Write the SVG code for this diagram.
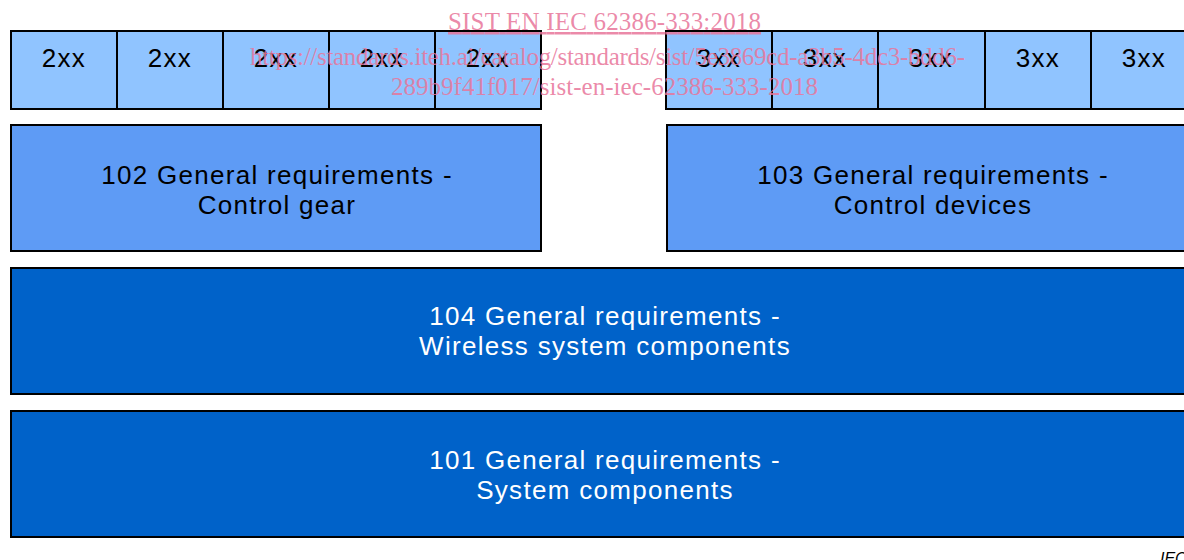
<svg xmlns="http://www.w3.org/2000/svg" width="1184" height="560" viewBox="0 0 1184 560">
<style>
.b{stroke:#000;stroke-width:2}
.l{fill:#90C4FF}
.m{fill:#5E9BF5}
.d{fill:#0062C9}
.t{font-family:"Liberation Sans",Arial,sans-serif;font-size:26px;text-anchor:middle;fill:#000;letter-spacing:1.3px}
.w{fill:#fff}
.wm{font-family:"Liberation Serif","Times New Roman",serif;font-size:25px;fill:#E8759A;fill-opacity:0.85}
</style>
<rect width="1184" height="560" fill="#fff"/>
<g id="row2xx">
<rect class="b l" x="11" y="31" width="106" height="78"/><text class="t" x="64" y="67">2xx</text>
<rect class="b l" x="117" y="31" width="106" height="78"/><text class="t" x="170" y="67">2xx</text>
<rect class="b l" x="223" y="31" width="106" height="78"/><text class="t" x="276" y="67">2xx</text>
<rect class="b l" x="329" y="31" width="106" height="78"/><text class="t" x="382" y="67">2xx</text>
<rect class="b l" x="435" y="31" width="106" height="78"/><text class="t" x="488" y="67">2xx</text>
</g>
<g id="row3xx">
<rect class="b l" x="666" y="31" width="106" height="78"/><text class="t" x="719" y="67">3xx</text>
<rect class="b l" x="772" y="31" width="106" height="78"/><text class="t" x="825" y="67">3xx</text>
<rect class="b l" x="878" y="31" width="107" height="78"/><text class="t" x="931" y="67">3xx</text>
<rect class="b l" x="985" y="31" width="106" height="78"/><text class="t" x="1038" y="67">3xx</text>
<rect class="b l" x="1091" y="31" width="106" height="78"/><text class="t" x="1144" y="67">3xx</text>
</g>
<g id="n102">
<rect class="b m" x="11" y="125" width="530" height="126"/>
<text class="t" x="277" y="184">102 General requirements -</text>
<text class="t" x="277" y="214">Control gear</text>
</g>
<g id="n103">
<rect class="b m" x="667" y="125" width="530" height="126"/>
<text class="t" x="933" y="184">103 General requirements -</text>
<text class="t" x="933" y="214">Control devices</text>
</g>
<g id="n104">
<rect class="b d" x="11" y="268" width="1190" height="126"/>
<text class="t w" x="605" y="325">104 General requirements -</text>
<text class="t w" x="605" y="355">Wireless system components</text>
</g>
<g id="n101">
<rect class="b d" x="11" y="411" width="1190" height="126"/>
<text class="t w" x="605" y="469">101 General requirements -</text>
<text class="t w" x="605" y="499">System components</text>
</g>
<g id="connectors"></g>
<text x="1160" y="564" font-family="Liberation Sans,Arial,sans-serif" font-size="16" font-style="italic" fill="#000">IEC</text>
<g id="watermark">
<text class="wm" x="448" y="30" textLength="313" text-decoration="underline">SIST EN IEC 62386-333:2018</text>
<text class="wm" x="250" y="65" textLength="715">https://standards.iteh.ai/catalog/standards/sist/5e3869cd-a3b5-4dc3-bdd6-</text>
<text class="wm" x="391" y="95" textLength="427">289b9f41f017/sist-en-iec-62386-333-2018</text>
</g>
</svg>
